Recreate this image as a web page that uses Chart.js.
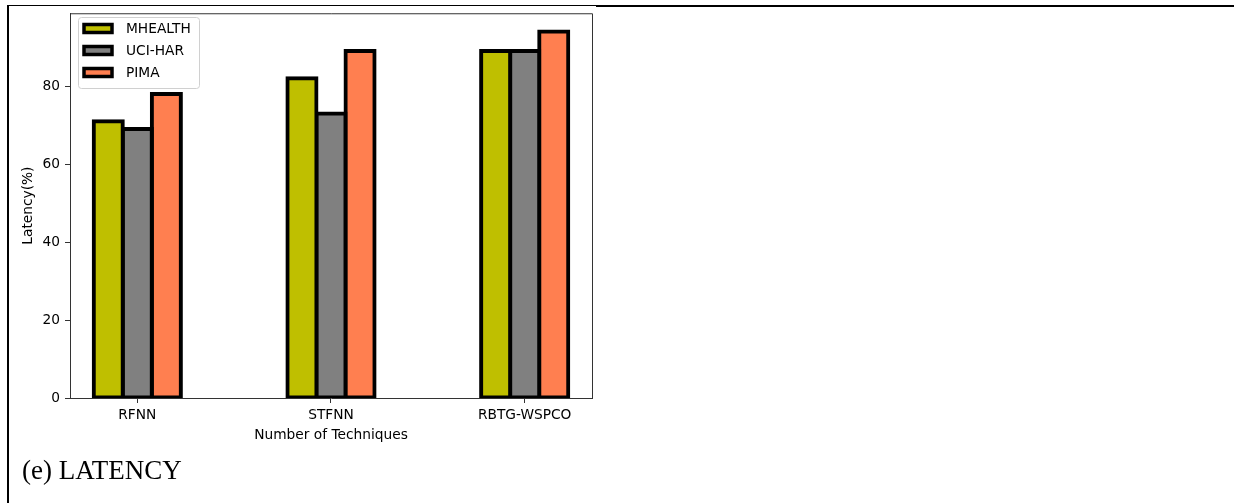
<!DOCTYPE html>
<html>
<head>
<meta charset="utf-8">
<script src="https://cdn.jsdelivr.net/npm/chart.js@4.4.1/dist/chart.umd.min.js"></script>
<style>
  html, body { margin: 0; padding: 0; background: #fff; }
  #wrap { position: relative; width: 1234px; height: 503px; overflow: hidden; }
  #c { position: absolute; left: 0; top: 0; }
  .line { position: absolute; background: #000; }
  #caption { position: absolute; left: 22px; top: 455px; font-family: "Liberation Serif", "Times New Roman", serif; font-size: 27px; color: #000; white-space: nowrap; }
</style>
</head>
<body>
<div id="wrap">
  <canvas id="c" width="1234" height="503"></canvas>
  <div class="line" style="left:7px; top:5px; width:589px; height:1px;"></div>
  <div class="line" style="left:596px; top:5px; width:638px; height:2px;"></div>
  <div class="line" style="left:7px; top:5px; width:2px; height:498px;"></div>
  <div id="caption">(e) LATENCY</div>
</div>
<script>
// ---- data ----
const categories = ["RFNN", "STFNN", "RBTG-WSPCO"];
const seriesNames = ["MHEALTH", "UCI-HAR", "PIMA"];
const mhealth = [71, 82, 89];
const uciHar = [69, 73, 89];
const pima = [78, 89, 94];
const yTicks = [0, 20, 40, 60, 80];
const xLabel = "Number of Techniques";
const yLabel = "Latency(%)";

const colors = ["#bfbf00", "#808080", "#ff7f50"];
const seriesValues = [mhealth, uciHar, pima];
const FONT = "'DejaVu Sans', sans-serif";
const FS = 13.75;

const datasets = seriesNames.map((name, i) => ({
  label: name,
  data: seriesValues[i].map((v, j) => ({ x: j, y: v })),
  backgroundColor: colors[i],
  borderColor: "#000",
  borderWidth: 4,
  borderSkipped: false,
  inflateAmount: 2,
  categoryPercentage: 0.45,
  barPercentage: 1
}));

const framePlugin = {
  id: "frame",
  afterDatasetsDraw(chart) {
    const { ctx, chartArea: a } = chart;
    ctx.save();
    ctx.strokeStyle = "#333";
    ctx.lineWidth = 1;
    ctx.beginPath();
    ctx.moveTo(a.left, a.top + 0.5);
    ctx.lineTo(a.right + 0.5, a.top + 0.5);
    ctx.lineTo(a.right + 0.5, a.bottom);
    ctx.stroke();
    ctx.restore();
  },
  afterDraw(chart) {
    // matplotlib-style legend inside the axes, upper left
    const { ctx } = chart;
    ctx.save();
    const bx = 78.5, by = 17.5, bw = 121, bh = 71, r = 3;
    ctx.beginPath();
    ctx.moveTo(bx + r, by);
    ctx.lineTo(bx + bw - r, by);
    ctx.quadraticCurveTo(bx + bw, by, bx + bw, by + r);
    ctx.lineTo(bx + bw, by + bh - r);
    ctx.quadraticCurveTo(bx + bw, by + bh, bx + bw - r, by + bh);
    ctx.lineTo(bx + r, by + bh);
    ctx.quadraticCurveTo(bx, by + bh, bx, by + bh - r);
    ctx.lineTo(bx, by + r);
    ctx.quadraticCurveTo(bx, by, bx + r, by);
    ctx.closePath();
    ctx.fillStyle = "rgba(255,255,255,0.8)";
    ctx.fill();
    ctx.strokeStyle = "#d0d0d0";
    ctx.lineWidth = 1;
    ctx.stroke();
    ctx.font = FS + "px " + FONT;
    ctx.textBaseline = "middle";
    ctx.textAlign = "left";
    chart.data.datasets.forEach((ds, i) => {
      const cy = 28.5 + i * 22;
      ctx.fillStyle = ds.backgroundColor;
      ctx.fillRect(84, cy - 4, 28, 8);
      ctx.strokeStyle = "#000";
      ctx.lineWidth = 3.5;
      ctx.strokeRect(84, cy - 4, 28, 8);
      ctx.fillStyle = "#000";
      ctx.fillText(ds.label, 126, cy + 1);
    });
    ctx.restore();
  }
};

new Chart(document.getElementById("c"), {
  type: "bar",
  data: { datasets },
  options: {
    responsive: false,
    animation: false,
    devicePixelRatio: 1,
    layout: { padding: { left: 0, right: 642, top: 10, bottom: 0 } },
    plugins: { legend: { display: false }, tooltip: { enabled: false } },
    scales: {
      x: {
        type: "linear",
        min: -0.3475,
        max: 2.3475,
        offset: false,
        afterBuildTicks(scale) { scale.ticks = categories.map((_, i) => ({ value: i })); },
        afterFit(scale) { scale.height = 105; },
        ticks: {
          callback: (v) => categories[v] ?? "",
          color: "#000",
          font: { family: FONT, size: FS },
          padding: 4,
          maxRotation: 0,
          autoSkip: false
        },
        grid: { display: true, offset: false, drawOnChartArea: false, drawTicks: true, tickLength: 5, color: "#333" },
        border: { display: true, color: "#333", width: 1 },
        title: {
          display: true,
          text: xLabel,
          color: "#000",
          font: { family: FONT, size: FS },
          padding: { top: 0, bottom: 59 }
        }
      },
      y: {
        min: 0,
        max: 98.7,
        afterBuildTicks(scale) { scale.ticks = yTicks.map(v => ({ value: v })); },
        afterFit(scale) { scale.width = 70; },
        ticks: {
          color: "#000",
          font: { family: FONT, size: FS },
          padding: 5,
          includeBounds: false
        },
        grid: { display: true, drawOnChartArea: false, drawTicks: true, tickLength: 5, color: "#333" },
        border: { display: true, color: "#333", width: 1 },
        title: {
          display: true,
          text: yLabel,
          color: "#000",
          font: { family: FONT, size: FS },
          padding: { top: 20, bottom: 0 }
        }
      }
    }
  },
  plugins: [framePlugin]
});
</script>
</body>
</html>
